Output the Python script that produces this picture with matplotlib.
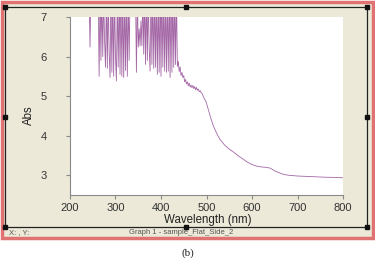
import matplotlib
matplotlib.use("Agg")
import matplotlib.pyplot as plt
from matplotlib.patches import Rectangle
from matplotlib.lines import Line2D

# ---- data ----
wavelength = [240, 242, 244, 246, 248, 250, 252, 254, 256, 258, 260,
              262, 264, 266, 268, 270, 272, 274, 276, 278, 280,
              282, 284, 286, 288, 290, 292, 294, 296, 298, 300,
              302, 304, 306, 308, 310, 312, 314, 316, 318, 320,
              322, 324, 326, 328, 330, 332, 334, 336, 338, 340,
              342, 344, 346, 348, 350, 352, 354, 356, 358, 360,
              362, 364, 366, 368, 370, 372, 374, 376, 378, 380,
              382, 384, 386, 388, 390, 392, 394, 396, 398, 400,
              402, 404, 406, 408, 410, 412, 414, 416, 418, 420,
              422, 424, 426, 428, 430, 432, 434, 436, 438, 440,
              442, 444, 446, 448, 450, 452, 454, 456, 458, 460,
              462, 464, 466, 468, 470, 472, 474, 476, 478, 480,
              482, 484, 486, 488, 490, 492, 494, 496, 498, 500,
              505, 510, 515, 520, 525, 530, 540, 550, 560, 570,
              580, 590, 600, 610, 620, 630, 640, 650, 660, 670,
              680, 690, 700, 720, 740, 760, 780, 800]
absorbance = [7.6, 7.6, 6.24, 7.6, 7.6, 7.6, 7.6, 7.6, 7.6, 7.6, 7.6,
              7.6, 5.50, 7.6, 5.90, 7.6, 6.00, 7.6, 6.40, 5.73, 7.6,
              5.70, 7.6, 6.10, 5.47, 7.6, 5.60, 7.6, 5.50, 7.6, 6.00,
              5.38, 7.6, 5.73, 7.6, 5.55, 7.6, 5.50, 7.6, 5.47, 7.6,
              5.65, 7.6, 5.50, 7.6, 5.90, 7.6, 7.6, 7.6, 7.6, 7.6,
              7.6, 7.6, 5.60, 7.6, 6.24, 6.70, 6.27, 6.90, 6.27, 7.6,
              6.06, 7.6, 5.80, 7.6, 5.90, 7.6, 6.20, 5.63, 7.6, 5.80,
              7.6, 5.70, 7.6, 5.73, 7.6, 5.55, 7.6, 5.60, 7.6, 5.50,
              7.6, 5.73, 7.6, 5.63, 7.6, 5.60, 7.6, 5.63, 7.6, 5.47,
              7.6, 5.60, 7.6, 5.73, 7.6, 5.80, 7.6, 5.75, 5.88, 5.62,
              5.74, 5.52, 5.60, 5.47, 5.52, 5.36, 5.42, 5.31, 5.36, 5.26,
              5.33, 5.23, 5.28, 5.21, 5.27, 5.19, 5.24, 5.16, 5.22, 5.15,
              5.18, 5.11, 5.14, 5.09, 5.07, 5.02, 4.96, 4.92, 4.88, 4.82,
              4.62, 4.42, 4.25, 4.12, 4.00, 3.90, 3.76, 3.66, 3.58, 3.49,
              3.41, 3.33, 3.27, 3.23, 3.21, 3.20, 3.18, 3.11, 3.06, 3.02,
              3.00, 2.99, 2.98, 2.97, 2.96, 2.95, 2.945, 2.935]
x_ticks = [200, 300, 400, 500, 600, 700, 800]
y_ticks = [3, 4, 5, 6, 7]
x_label = "Wavelength (nm)"
y_label = "Abs"
status_left = "X: , Y:"
status_title = "Graph 1 - sample_Flat_Side_2"
caption = "(b)"

W, H = 375, 260
fig = plt.figure(figsize=(W / 100, H / 100), dpi=100)
fig.patch.set_facecolor("white")

def fx(px):
    return px / W

def fy(py):
    return 1 - py / H

# outer window frame
frame = Rectangle((fx(2), fy(238)), fx(371), 236 / H, transform=fig.transFigure,
                  facecolor="#ece9d8", edgecolor="#e07272", linewidth=2.5, zorder=-5)
fig.patches.append(frame)

# inner dark selection box and status separator
dark = "#222222"
for (x0, y0, x1, y1) in [(5, 7, 366.5, 7), (5, 7, 5, 226.5), (366.5, 7, 366.5, 226.5),
                         (5, 226.5, 366.5, 226.5)]:
    fig.add_artist(Line2D([fx(x0), fx(x1)], [fy(y0), fy(y1)], transform=fig.transFigure,
                          color=dark, linewidth=0.9, zorder=1))
for (hx, hy) in [(5, 7), (186, 7), (366.5, 7), (5, 117), (366.5, 117),
                 (5, 226.5), (186, 226.5), (366.5, 226.5)]:
    fig.add_artist(Line2D([fx(hx)], [fy(hy)], transform=fig.transFigure, marker="s",
                          markersize=2.2, color="#111111", linestyle="none", zorder=2))

ax = fig.add_axes([fx(70), fy(195), fx(273), 178 / H], zorder=5)
ax.set_facecolor("white")
ax.plot(wavelength, absorbance, color="#a467a6", linewidth=0.6)
ax.set_xlim(200, 800)
ax.set_ylim(2.5, 7.0)
ax.set_xticks(x_ticks)
ax.set_yticks(y_ticks)
for s in ["top", "right"]:
    ax.spines[s].set_visible(False)
for s in ["left", "bottom"]:
    ax.spines[s].set_color("#8a8a8a")
    ax.spines[s].set_linewidth(0.8)
font = "Liberation Sans"
ax.tick_params(axis="both", direction="out", length=3, width=0.8, color="#8a8a8a",
               labelcolor="#333333", labelsize=8)
ax.tick_params(axis="y", pad=14)
ax.tick_params(axis="x", pad=2.5)
for lab in ax.get_xticklabels() + ax.get_yticklabels():
    lab.set_family(font)

fig.text(fx(208), fy(219.5), x_label, ha="center", va="center", fontsize=8.3,
         family=font, color="#222222", zorder=6)
fig.text(fx(29), fy(115), y_label, ha="center", va="center", fontsize=8.3,
         family=font, color="#222222", rotation=90, zorder=6)

fig.text(fx(9), fy(233), status_left, ha="left", va="center", fontsize=5.5,
         family=font, color="#555555", zorder=6)
fig.text(fx(181), fy(233), status_title, ha="center", va="center", fontsize=5.5,
         family=font, color="#555555", zorder=6)
fig.text(fx(188), fy(253), caption, ha="center", va="center", fontsize=8,
         family="Liberation Serif", color="#222222", zorder=6)

fig.savefig("out.png", dpi=100)
